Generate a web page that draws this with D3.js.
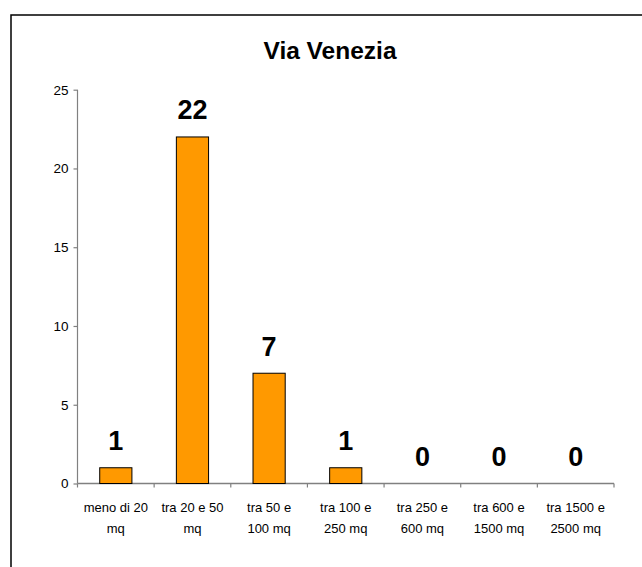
<!DOCTYPE html>
<html><head><meta charset="utf-8">
<script src="https://cdn.jsdelivr.net/npm/d3@7"></script>
<style>
html,body{margin:0;padding:0;background:#fff;}
svg{display:block;font-family:"Liberation Sans",Arial,sans-serif;}
</style></head>
<body>
<svg id="chart" width="642" height="567"></svg>
<script>
const title = "Via Venezia";
const categories = ["meno di 20 mq","tra 20 e 50 mq","tra 50 e 100 mq","tra 100 e 250 mq","tra 250 e 600 mq","tra 600 e 1500 mq","tra 1500 e 2500 mq"];
const categoryLines = [["meno di 20","mq"],["tra 20 e 50","mq"],["tra 50 e","100 mq"],["tra 100 e","250 mq"],["tra 250 e","600 mq"],["tra 600 e","1500 mq"],["tra 1500 e","2500 mq"]];
const values = [1,22,7,1,0,0,0];
const yTicks = [0,5,10,15,20,25];

(function(){
const svg = d3.select("#chart");
// outer frame
svg.append("rect").attr("x",11).attr("y",15).attr("width",700).attr("height",700)
  .attr("fill","#fff").attr("stroke","#000").attr("stroke-width",1.5);

svg.append("text").attr("x",330).attr("y",58.5).attr("text-anchor","middle")
  .attr("font-size",24.5).attr("font-weight","bold").text(title);

const pLeft=77.5, pRight=614, pTop=89.7, pBottom=483.5;
const pin=0.58;
const x = d3.scaleBand().domain(categories).range([pLeft,pRight]).paddingInner(pin).paddingOuter(pin/2);
const y = d3.scaleLinear().domain([0,25]).range([pBottom,pTop]);

const yAxis = d3.axisLeft(y).tickValues(yTicks).tickSize(4).tickPadding(5);
const gy = svg.append("g").attr("transform",`translate(${pLeft},0)`).call(yAxis);
gy.selectAll("path,line").attr("stroke","#808080").attr("stroke-width",1.2);
gy.select(".domain").attr("d",`M0,${pTop}V${pBottom}`);
gy.selectAll("text").attr("font-size",13.5).attr("fill","#000").attr("font-family","'Liberation Sans',Arial,sans-serif");

// x axis line and ticks at band boundaries
const step = x.step();
const gx = svg.append("g");
gx.append("line").attr("x1",pLeft).attr("x2",pRight).attr("y1",pBottom).attr("y2",pBottom)
  .attr("stroke","#808080").attr("stroke-width",1.5);
const boundaries = categories.map(c => x(c) - step*pin/2).concat([pRight]);
gx.selectAll("line.tk").data(boundaries).enter().append("line").attr("class","tk")
  .attr("x1",d=>d).attr("x2",d=>d).attr("y1",pBottom).attr("y2",pBottom+4)
  .attr("stroke","#808080").attr("stroke-width",1.2);

// category labels
categories.forEach((c,i)=>{
  const cx = x(c)+x.bandwidth()/2;
  const t = svg.append("text").attr("text-anchor","middle").attr("font-size",13);
  categoryLines[i].forEach((ln,j)=>{
    t.append("tspan").attr("x",cx).attr("y",511.5+j*21.5).text(ln);
  });
});

// bars
svg.selectAll("rect.bar").data(values).enter().append("rect").attr("class","bar")
  .attr("x",(d,i)=>x(categories[i])).attr("width",x.bandwidth())
  .attr("y",d=>y(d)).attr("height",d=>pBottom-y(d))
  .attr("fill",d=>d>0?"#FF9900":"none").attr("stroke",d=>d>0?"#000":"none").attr("stroke-width",1);

// value labels
svg.selectAll("text.val").data(values).enter().append("text").attr("class","val")
  .attr("x",(d,i)=>x(categories[i])+x.bandwidth()/2)
  .attr("y",d=>y(d)-17.5).attr("text-anchor","middle")
  .attr("font-size",27).attr("font-weight","bold").text(d=>d);
})();
</script>
</body></html>
